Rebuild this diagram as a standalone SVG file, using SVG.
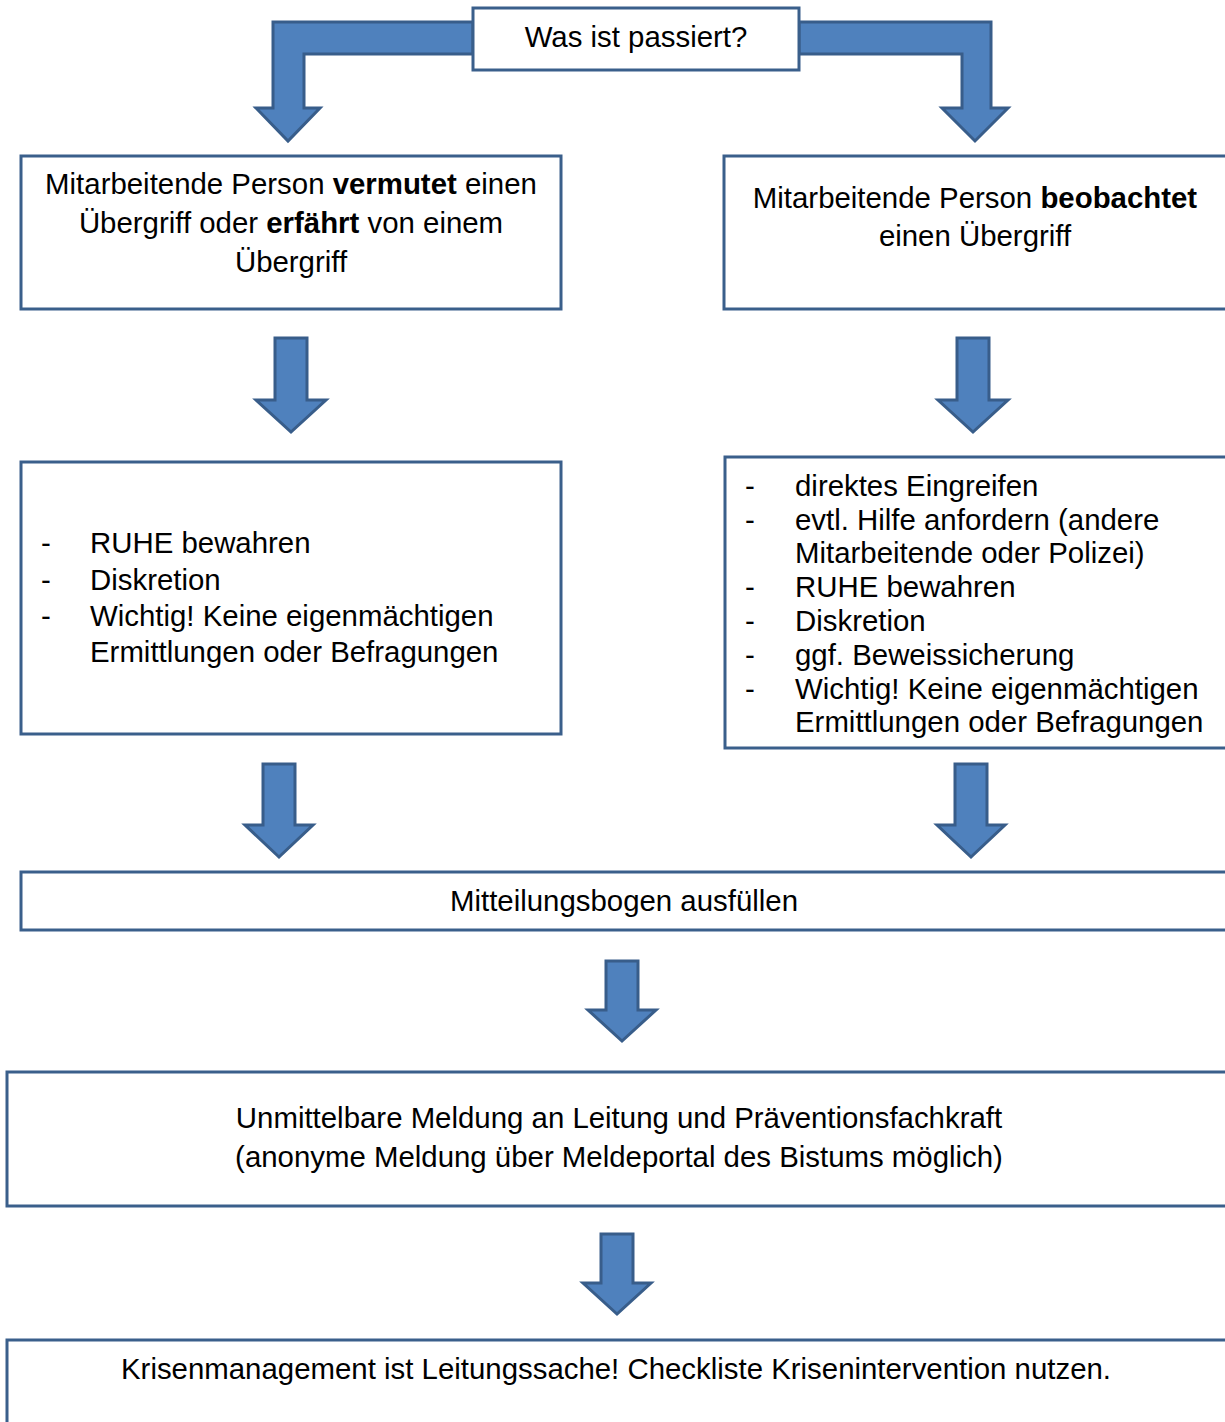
<svg xmlns="http://www.w3.org/2000/svg" width="1225" height="1422" viewBox="0 0 1225 1422">
<style>
.box{fill:#fff;stroke:#3a5f8b;stroke-width:3}
.arr{fill:#4f81bd;stroke:#385d8a;stroke-width:3;stroke-linejoin:miter}
text{font-family:"Liberation Sans",Arial,sans-serif;font-size:29.4px;fill:#000}
.c{text-anchor:middle}
.b{font-weight:bold}
</style>
<rect width="1225" height="1422" fill="#fff"/>
<g id="connectors">
<path class="arr" d="M473,22 L273,22 L273,108 L256,108 L288,141 L320,108 L304,108 L304,54 L473,54 Z"/>
<path class="arr" d="M799,22 L991,22 L991,108 L1008,108 L975,141 L942,108 L962,108 L962,54 L799,54 Z"/>
<path class="arr" d="M275,338 L307,338 L307,400 L326,400 L291,432 L256,400 L275,400 Z"/>
<path class="arr" d="M957,338 L989,338 L989,400 L1008,400 L973,432 L938,400 L957,400 Z"/>
<path class="arr" d="M263,764 L295,764 L295,825 L313,825 L279,857 L245,825 L263,825 Z"/>
<path class="arr" d="M955,764 L987,764 L987,825 L1005,825 L971,857 L937,825 L955,825 Z"/>
<path class="arr" d="M606,961 L638,961 L638,1010 L656,1010 L622,1041 L588,1010 L606,1010 Z"/>
<path class="arr" d="M601,1234 L633,1234 L633,1283 L651,1283 L617,1314 L583,1283 L601,1283 Z"/>
</g>
<g id="n0">
<rect class="box" x="473" y="8" width="326" height="62"/>
<text class="c" x="636" y="47">Was ist passiert?</text>
</g>
<g id="n1">
<rect class="box" x="21" y="156" width="540" height="153"/>
<text class="c" x="291" y="194">Mitarbeitende Person <tspan class="b">vermutet</tspan> einen</text>
<text class="c" x="291" y="233">Übergriff oder <tspan class="b">erfährt</tspan> von einem</text>
<text class="c" x="291" y="272">Übergriff</text>
</g>
<g id="n2">
<rect class="box" x="724" y="156" width="510" height="153"/>
<text class="c" x="975" y="208">Mitarbeitende Person <tspan class="b">beobachtet</tspan></text>
<text class="c" x="975" y="246">einen Übergriff</text>
</g>
<g id="n3">
<rect class="box" x="21" y="462" width="540" height="272"/>
<text x="41" y="553">-</text><text x="90" y="553">RUHE bewahren</text>
<text x="41" y="590">-</text><text x="90" y="590">Diskretion</text>
<text x="41" y="626">-</text><text x="90" y="626">Wichtig! Keine eigenmächtigen</text>
<text x="90" y="662">Ermittlungen oder Befragungen</text>
</g>
<g id="n4">
<rect class="box" x="725" y="457" width="510" height="291"/>
<text x="745" y="496">-</text><text x="795" y="496">direktes Eingreifen</text>
<text x="745" y="530">-</text><text x="795" y="530">evtl. Hilfe anfordern (andere</text>
<text x="795" y="563">Mitarbeitende oder Polizei)</text>
<text x="745" y="597">-</text><text x="795" y="597">RUHE bewahren</text>
<text x="745" y="631">-</text><text x="795" y="631">Diskretion</text>
<text x="745" y="665">-</text><text x="795" y="665">ggf. Beweissicherung</text>
<text x="745" y="699">-</text><text x="795" y="699">Wichtig! Keine eigenmächtigen</text>
<text x="795" y="732">Ermittlungen oder Befragungen</text>
</g>
<g id="n5">
<rect class="box" x="21" y="872" width="1215" height="58"/>
<text class="c" x="624" y="911">Mitteilungsbogen ausfüllen</text>
</g>
<g id="n6">
<rect class="box" x="7" y="1072" width="1230" height="134"/>
<text class="c" x="619" y="1128">Unmittelbare Meldung an Leitung und Präventionsfachkraft</text>
<text class="c" x="619" y="1167">(anonyme Meldung über Meldeportal des Bistums möglich)</text>
</g>
<g id="n7">
<rect class="box" x="7" y="1340" width="1230" height="100"/>
<text class="c" x="616" y="1379">Krisenmanagement ist Leitungssache! Checkliste Krisenintervention nutzen.</text>
</g>
</svg>
